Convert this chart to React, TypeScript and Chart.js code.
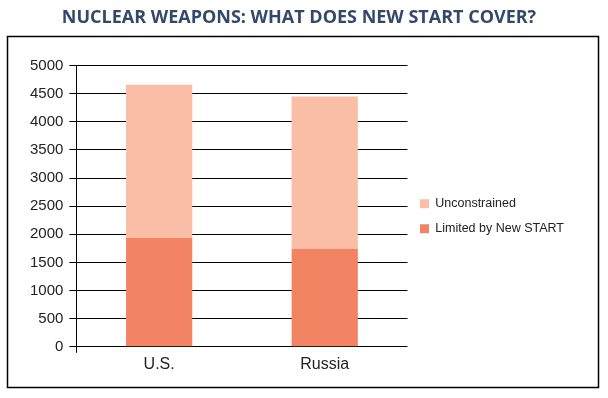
import React, { useEffect, useRef } from "react";
import { Chart, registerables } from "chart.js";

Chart.register(...registerables);

const categories = ["U.S.", "Russia"];
const limitedByNewStart = [1940, 1740];
const unconstrained = [2720, 2710];
const yTicks = [0, 500, 1000, 1500, 2000, 2500, 3000, 3500, 4000, 4500, 5000];

const borderPlugin = {
  id: "frameBorder",
  beforeDraw(chart: any) {
    const ctx = chart.ctx;
    ctx.save();
    ctx.fillStyle = "#ffffff";
    ctx.fillRect(0, 0, chart.width, chart.height);
    ctx.restore();
  },
  afterDraw(chart: any) {
    const ctx = chart.ctx;
    ctx.save();
    ctx.strokeStyle = "#000000";
    ctx.lineWidth = 1.5;
    ctx.strokeRect(7.5, 36.5, 591, 351);
    ctx.restore();
  },
};

export default function App() {
  const ref = useRef<HTMLCanvasElement | null>(null);
  useEffect(() => {
    if (!ref.current) return;
    const chart = new Chart(ref.current, {
      type: "bar",
      data: {
        labels: categories,
        datasets: [
          {
            label: "Limited by New START",
            data: limitedByNewStart,
            backgroundColor: "#F28363",
            barPercentage: 0.4,
            categoryPercentage: 1,
          },
          {
            label: "Unconstrained",
            data: unconstrained,
            backgroundColor: "#F9BEA5",
            barPercentage: 0.4,
            categoryPercentage: 1,
          },
        ],
      },
      options: {
        animation: false,
        responsive: false,
        maintainAspectRatio: false,
        layout: { padding: { left: 24, right: 34, top: 0, bottom: 22 } },
        plugins: {
          title: {
            display: true,
            text: "NUCLEAR WEAPONS: WHAT DOES NEW START COVER?",
            color: "#34486a",
            font: { family: "Open Sans", size: 18, weight: "bold" },
            padding: { top: 7, bottom: 37 },
          },
          legend: {
            position: "right",
            reverse: true,
            fullSize: false,
            maxWidth: 170,
            title: { display: true, text: "", font: { size: 10 }, padding: 4 },
            labels: {
              boxWidth: 9,
              boxHeight: 9,
              padding: 12.5,
              color: "#222222",
              font: { family: "Liberation Sans", size: 12.5 },
            },
          },
          tooltip: { enabled: false },
        },
        scales: {
          x: {
            stacked: true,
            grid: {
              drawOnChartArea: false,
              tickLength: 6,
              color: (ctx: any) => (ctx.index === 0 ? "#000000" : "rgba(0,0,0,0)"),
            },
            border: { display: false },
            ticks: {
              padding: 2,
              color: "#222222",
              font: { family: "Liberation Sans", size: 16 },
            },
          },
          y: {
            stacked: true,
            min: 0,
            max: 5000,
            afterBuildTicks: (scale: any) => {
              scale.ticks = yTicks.map((v) => ({ value: v }));
            },
            grid: { color: "#000000", lineWidth: 1, tickLength: 7 },
            border: { display: true, color: "#000000", width: 1 },
            ticks: {
              padding: 6,
              color: "#222222",
              font: { family: "Liberation Sans", size: 15 },
              callback: (v: any) => String(v),
            },
          },
        },
      },
      plugins: [borderPlugin],
    } as any);
    return () => chart.destroy();
  }, []);
  return (
    <div style={{ position: "fixed", left: 0, top: 0, width: 608, height: 398 }}>
      <canvas ref={ref} width={608} height={398} style={{ width: 608, height: 398, display: "block" }} />
    </div>
  );
}
